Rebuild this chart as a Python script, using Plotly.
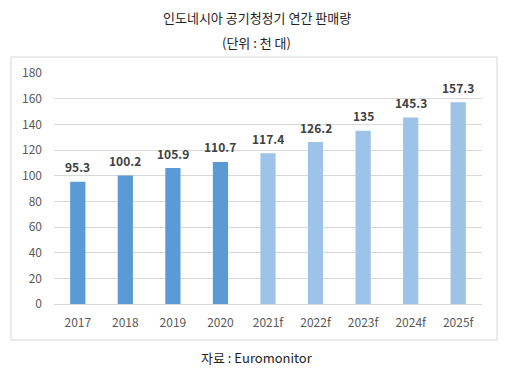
import plotly.graph_objects as go

categories = ["2017", "2018", "2019", "2020", "2021f", "2022f", "2023f", "2024f", "2025f"]
values = [95.3, 100.2, 105.9, 110.7, 117.4, 126.2, 135, 145.3, 157.3]
labels = ["95.3", "100.2", "105.9", "110.7", "117.4", "126.2", "135", "145.3", "157.3"]
colors = ["#5B9BD5"] * 4 + ["#9DC3E6"] * 5
y_ticks = [0, 20, 40, 60, 80, 100, 120, 140, 160, 180]

FONT = "Noto Sans CJK KR, Noto Sans, sans-serif"

L, R, T, B = 54, 31, 73, 73
W, H = 513, 377
pw, ph = W - L - R, H - T - B

def px_x(x):
    return (x - L) / pw

def px_y(y):
    return (H - B - y) / ph

fig = go.Figure(layout=dict(xaxis=dict(type="category", categoryorder="array", categoryarray=categories)))
fig.add_trace(go.Bar(x=categories, y=values, marker=dict(color=colors, line=dict(width=0)),
                     width=0.32, hoverinfo="skip"))

# value labels: category axis index positions via the library's category scale
for i, (v, t) in enumerate(zip(values, labels)):
    fig.add_annotation(x=i, y=v, xref="x", yref="y", text="<b>" + t + "</b>", showarrow=False,
                       yshift=15, font=dict(size=12, color="#404040", family=FONT))

fig.add_shape(type="rect", xref="paper", yref="paper",
              x0=px_x(11), x1=px_x(497), y0=px_y(340), y1=px_y(57),
              line=dict(color="#D9D9D9", width=1), layer="below")

fig.add_annotation(xref="paper", yref="paper", x=px_x(256.5), y=px_y(18), text="인도네시아 공기청정기 연간 판매량",
                   showarrow=False, font=dict(size=13, color="#222222", family=FONT), yanchor="middle")
fig.add_annotation(xref="paper", yref="paper", x=px_x(256.5), y=px_y(43), text="(단위 : 천 대)",
                   showarrow=False, font=dict(size=13, color="#222222", family=FONT), yanchor="middle")
fig.add_annotation(xref="paper", yref="paper", x=px_x(256.5), y=px_y(357), text="자료 : Euromonitor",
                   showarrow=False, font=dict(size=13, color="#222222", family=FONT), yanchor="middle")

fig.update_layout(
    width=W, height=H,
    margin=dict(l=L, r=R, t=T, b=B),
    paper_bgcolor="white", plot_bgcolor="white",
    showlegend=False,
    font=dict(family=FONT),
    xaxis=dict(type="category", categoryorder="array", categoryarray=categories,
               range=[-0.5, len(categories) - 0.5],
               showgrid=False, showline=False, ticks="", ticklabelstandoff=10,
               tickfont=dict(size=12, color="#595959"), fixedrange=True),
    yaxis=dict(range=[0, 180], tickvals=y_ticks, showgrid=True, gridcolor="#D9D9D9", gridwidth=1,
               zeroline=True, zerolinecolor="#D9D9D9", zerolinewidth=1,
               tickfont=dict(size=12, color="#595959"), ticks="", ticklabelstandoff=11,
               fixedrange=True),
)

fig.write_html("out.html", config={"displayModeBar": False},
               post_script="document.body.style.margin='0';document.body.style.padding='0';")
